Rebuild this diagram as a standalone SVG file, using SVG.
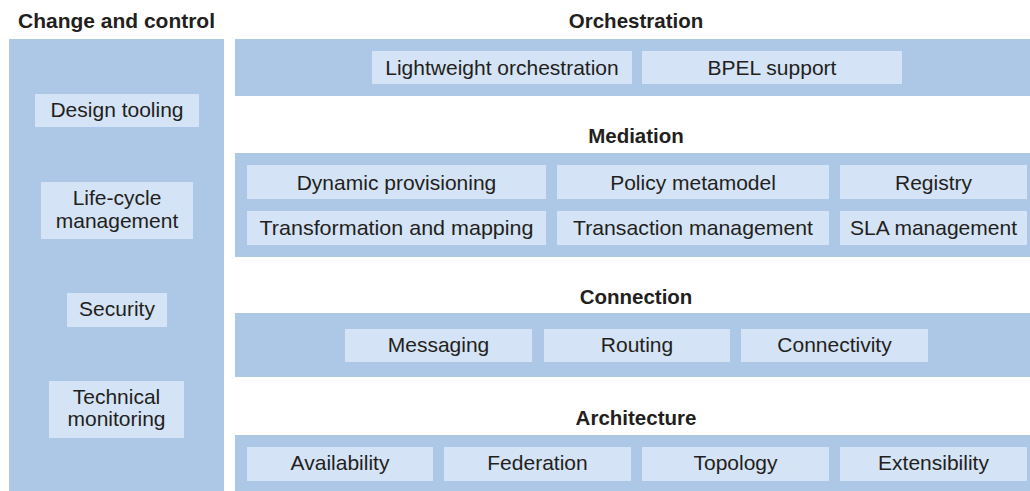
<svg xmlns="http://www.w3.org/2000/svg" width="1030" height="491" viewBox="0 0 1030 491">
<style>
.panel{fill:#adc8e7}
.box{fill:#d4e3f5}
.t{font-family:"Liberation Sans",Arial,sans-serif;font-size:21px;fill:#231f20;text-anchor:middle}
.h{font-family:"Liberation Sans",Arial,sans-serif;font-size:20.5px;font-weight:bold;fill:#231f20;text-anchor:middle}
</style>
<rect width="1030" height="491" fill="#ffffff"/>
<g id="change-and-control">
<text class="h" x="116.5" y="28" textLength="197" lengthAdjust="spacingAndGlyphs">Change and control</text>
<rect class="panel" x="9" y="39" width="215" height="452"/>
</g>
<g id="design-tooling"><rect class="box" x="35" y="94" width="164" height="33"/><text class="t" x="117" y="117">Design tooling</text></g>
<g id="life-cycle-management"><rect class="box" x="41" y="182" width="152" height="57"/><text class="t" x="117" y="205">Life-cycle</text><text class="t" x="117" y="228">management</text></g>
<g id="security"><rect class="box" x="67" y="293" width="100" height="34"/><text class="t" x="117" y="316">Security</text></g>
<g id="technical-monitoring"><rect class="box" x="49" y="381" width="135" height="57"/><text class="t" x="116.5" y="404">Technical</text><text class="t" x="116.5" y="426">monitoring</text></g>

<g id="orchestration">
<text class="h" x="636" y="28">Orchestration</text>
<rect class="panel" x="235" y="39" width="795" height="57"/>
</g>
<g id="lightweight-orchestration"><rect class="box" x="372" y="51" width="260" height="33"/><text class="t" x="502" y="75">Lightweight orchestration</text></g>
<g id="bpel-support"><rect class="box" x="642" y="51" width="260" height="33"/><text class="t" x="772" y="75">BPEL support</text></g>

<g id="mediation">
<text class="h" x="636" y="143">Mediation</text>
<rect class="panel" x="235" y="153" width="795" height="104"/>
</g>
<g id="dynamic-provisioning"><rect class="box" x="247" y="165" width="299" height="34"/><text class="t" x="396.5" y="190">Dynamic provisioning</text></g>
<g id="policy-metamodel"><rect class="box" x="557" y="165" width="272" height="34"/><text class="t" x="693" y="190">Policy metamodel</text></g>
<g id="registry"><rect class="box" x="840" y="165" width="187" height="34"/><text class="t" x="933.5" y="190">Registry</text></g>
<g id="transformation-and-mapping"><rect class="box" x="247" y="211" width="299" height="34"/><text class="t" x="396.5" y="235" textLength="274" lengthAdjust="spacingAndGlyphs">Transformation and mapping</text></g>
<g id="transaction-management"><rect class="box" x="557" y="211" width="272" height="34"/><text class="t" x="693" y="235" textLength="240" lengthAdjust="spacingAndGlyphs">Transaction management</text></g>
<g id="sla-management"><rect class="box" x="840" y="211" width="187" height="34"/><text class="t" x="933.5" y="235" textLength="167" lengthAdjust="spacingAndGlyphs">SLA management</text></g>

<g id="connection">
<text class="h" x="636" y="304">Connection</text>
<rect class="panel" x="235" y="313" width="795" height="64"/>
</g>
<g id="messaging"><rect class="box" x="345" y="329" width="187" height="33"/><text class="t" x="438.5" y="352">Messaging</text></g>
<g id="routing"><rect class="box" x="544" y="329" width="186" height="33"/><text class="t" x="637" y="352">Routing</text></g>
<g id="connectivity"><rect class="box" x="741" y="329" width="187" height="33"/><text class="t" x="834.5" y="352">Connectivity</text></g>

<g id="architecture">
<text class="h" x="636" y="425">Architecture</text>
<rect class="panel" x="235" y="435" width="795" height="56"/>
</g>
<g id="availability"><rect class="box" x="247" y="447" width="186" height="34"/><text class="t" x="340" y="470">Availability</text></g>
<g id="federation"><rect class="box" x="444" y="447" width="187" height="34"/><text class="t" x="537.5" y="470">Federation</text></g>
<g id="topology"><rect class="box" x="642" y="447" width="187" height="34"/><text class="t" x="735.5" y="470">Topology</text></g>
<g id="extensibility"><rect class="box" x="840" y="447" width="187" height="34"/><text class="t" x="933.5" y="470">Extensibility</text></g>
<g id="connectors"></g>
</svg>
